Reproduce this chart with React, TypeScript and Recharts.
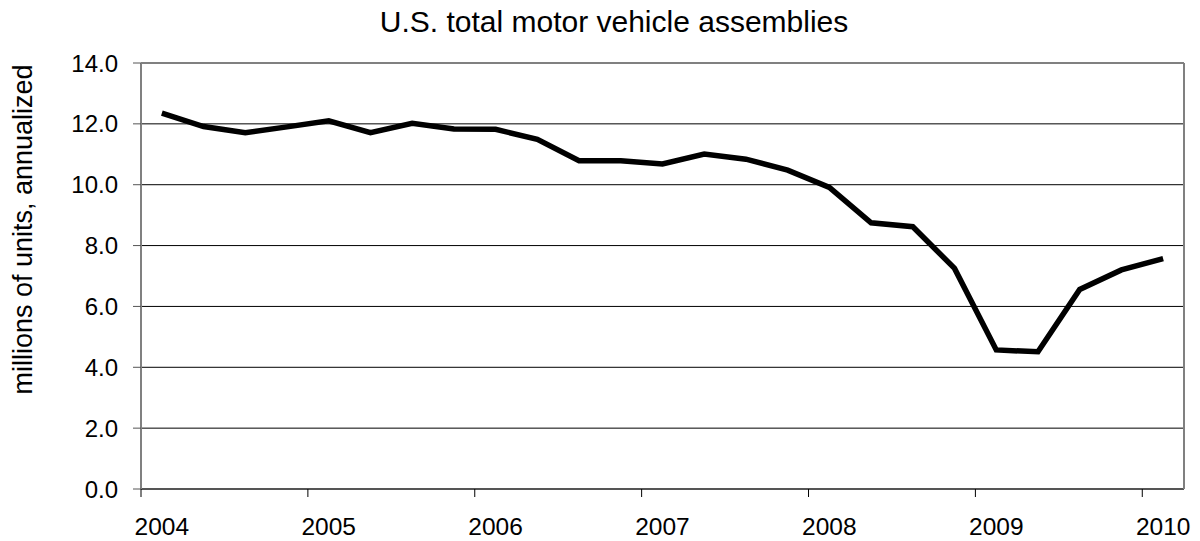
import { LineChart, Line, XAxis, YAxis, CartesianGrid, ReferenceLine } from "recharts";

const quarters = [
  "2004Q1", "2004Q2", "2004Q3", "2004Q4",
  "2005Q1", "2005Q2", "2005Q3", "2005Q4",
  "2006Q1", "2006Q2", "2006Q3", "2006Q4",
  "2007Q1", "2007Q2", "2007Q3", "2007Q4",
  "2008Q1", "2008Q2", "2008Q3", "2008Q4",
  "2009Q1", "2009Q2", "2009Q3", "2009Q4",
  "2010Q1",
];

const assemblies = [
  12.35, 11.91, 11.71, 11.9,
  12.1, 11.71, 12.02, 11.83,
  11.82, 11.49, 10.79, 10.79,
  10.68, 11.01, 10.84, 10.48,
  9.91, 8.75, 8.62, 7.25,
  4.57, 4.51, 6.56, 7.2,
  7.57,
];

const yTicks = [0, 2, 4, 6, 8, 10, 12, 14];

const data = quarters.map((q, i) => ({ q, value: assemblies[i] }));

const FONT = "'Liberation Sans', Arial, sans-serif";
const HALF_BAND = 1043 / quarters.length / 2;

// year label under the first quarter, tick mark at the band's left edge
const YearTick = (props: any) => {
  const { x, y, payload } = props;
  const label: string = payload.value;
  if (!label.endsWith("Q1")) return <g />;
  return (
    <g>
      <line x1={x - HALF_BAND} x2={x - HALF_BAND} y1={y} y2={y + 8} stroke="#000" strokeWidth={1} />
      <text x={x} y={y + 46} textAnchor="middle" fontSize={24.5} fontFamily={FONT} fill="#000">
        {label.slice(0, 4)}
      </text>
    </g>
  );
};

const App = () => {
  return (
    <div style={{ position: "absolute", left: 0, top: 0, width: 1200, height: 541, background: "#fff" }}>
      <div
        style={{
          position: "absolute",
          left: 0,
          top: 7,
          width: 1228,
          textAlign: "center",
          fontFamily: FONT,
          fontSize: 30,
          lineHeight: "30px",
          color: "#000",
        }}
      >
        U.S. total motor vehicle assemblies
      </div>
      <LineChart width={1200} height={541} data={data} margin={{ top: 63, right: 0, bottom: 12, left: 0 }}>
        <CartesianGrid yAxisId="left" vertical={false} stroke="#000" strokeWidth={1} />
        <XAxis
          dataKey="q"
          interval={0}
          height={40}
          padding={{ left: HALF_BAND, right: HALF_BAND }}
          tick={<YearTick />}
          tickLine={false}
          tickSize={0}
          tickMargin={0}
          axisLine={{ stroke: "#555", strokeWidth: 2 }}
        />
        <YAxis
          yAxisId="left"
          width={141}
          domain={[0, 14]}
          ticks={yTicks}
          interval={0}
          tickFormatter={(v: number) => v.toFixed(1)}
          tickSize={8}
          tickMargin={15}
          tickLine={{ stroke: "#555" }}
          axisLine={{ stroke: "#808080", strokeWidth: 2 }}
          tick={{ fontSize: 24, fontFamily: FONT, fill: "#000" }}
          label={{
            content: () => (
              <text
                x={32}
                y={229.5}
                transform="rotate(-90, 32, 229.5)"
                textAnchor="middle"
                fontSize={27}
                fontFamily={FONT}
                fill="#000"
              >
                millions of units, annualized
              </text>
            ),
          }}
        />
        <YAxis
          yAxisId="right"
          orientation="right"
          width={16}
          domain={[0, 14]}
          tick={false}
          tickLine={false}
          axisLine={{ stroke: "#808080", strokeWidth: 2 }}
        />
        <ReferenceLine yAxisId="left" y={14} stroke="#808080" strokeWidth={2} />
        <Line
          yAxisId="left"
          type="linear"
          dataKey="value"
          stroke="#000"
          strokeWidth={5.5}
          dot={false}
          isAnimationActive={false}
        />
      </LineChart>
    </div>
  );
};

export default App;
